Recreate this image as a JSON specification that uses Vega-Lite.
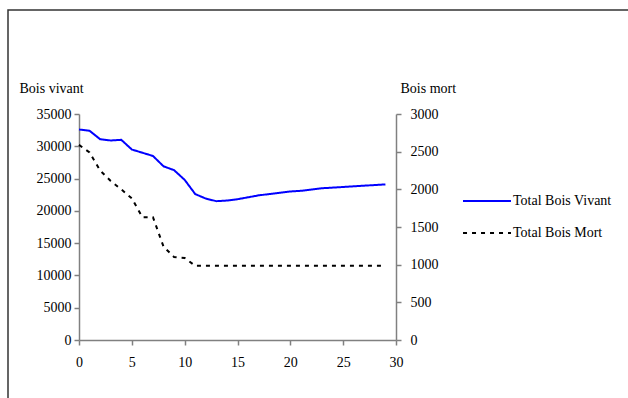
{
  "$schema": "https://vega.github.io/schema/vega-lite/v6.json",
  "autosize": {"type": "none"},
  "width": 622,
  "height": 395,
  "padding": {"left": 8, "top": 10, "right": 0, "bottom": 0},
  "background": "white",
  "config": {
    "view": {"stroke": "#333333", "strokeWidth": 1.5},
    "font": "Liberation Serif",
    "axis": {
      "grid": false,
      "labelFont": "Liberation Serif",
      "labelFontSize": 14,
      "labelColor": "#000000",
      "titleFont": "Liberation Serif",
      "titleFontSize": 14,
      "titleFontWeight": "normal",
      "titleColor": "#000000",
      "domainColor": "#808080",
      "domainWidth": 1.5,
      "tickColor": "#808080",
      "tickWidth": 1.5,
      "tickSize": 5
    },
    "legend": {
      "labelFont": "Liberation Serif",
      "labelFontSize": 14,
      "labelColor": "#000000"
    }
  },
  "data": {
    "values": [
      {"t": 0, "s": "Total Bois Vivant", "v": 32600},
      {"t": 1, "s": "Total Bois Vivant", "v": 32400},
      {"t": 2, "s": "Total Bois Vivant", "v": 31100},
      {"t": 3, "s": "Total Bois Vivant", "v": 30900},
      {"t": 4, "s": "Total Bois Vivant", "v": 31000},
      {"t": 5, "s": "Total Bois Vivant", "v": 29500},
      {"t": 6, "s": "Total Bois Vivant", "v": 29000},
      {"t": 7, "s": "Total Bois Vivant", "v": 28500},
      {"t": 8, "s": "Total Bois Vivant", "v": 26900},
      {"t": 9, "s": "Total Bois Vivant", "v": 26300},
      {"t": 10, "s": "Total Bois Vivant", "v": 24800},
      {"t": 11, "s": "Total Bois Vivant", "v": 22600},
      {"t": 12, "s": "Total Bois Vivant", "v": 21900},
      {"t": 13, "s": "Total Bois Vivant", "v": 21500},
      {"t": 14, "s": "Total Bois Vivant", "v": 21600},
      {"t": 15, "s": "Total Bois Vivant", "v": 21800},
      {"t": 16, "s": "Total Bois Vivant", "v": 22100},
      {"t": 17, "s": "Total Bois Vivant", "v": 22400},
      {"t": 18, "s": "Total Bois Vivant", "v": 22600},
      {"t": 19, "s": "Total Bois Vivant", "v": 22800},
      {"t": 20, "s": "Total Bois Vivant", "v": 23000},
      {"t": 21, "s": "Total Bois Vivant", "v": 23100},
      {"t": 22, "s": "Total Bois Vivant", "v": 23300},
      {"t": 23, "s": "Total Bois Vivant", "v": 23500},
      {"t": 24, "s": "Total Bois Vivant", "v": 23600},
      {"t": 25, "s": "Total Bois Vivant", "v": 23700},
      {"t": 26, "s": "Total Bois Vivant", "v": 23800},
      {"t": 27, "s": "Total Bois Vivant", "v": 23900},
      {"t": 28, "s": "Total Bois Vivant", "v": 24000},
      {"t": 29, "s": "Total Bois Vivant", "v": 24100},
      {"t": 0, "s": "Total Bois Mort", "v": 2590},
      {"t": 1, "s": "Total Bois Mort", "v": 2490},
      {"t": 2, "s": "Total Bois Mort", "v": 2250},
      {"t": 3, "s": "Total Bois Mort", "v": 2110},
      {"t": 4, "s": "Total Bois Mort", "v": 2000},
      {"t": 5, "s": "Total Bois Mort", "v": 1880},
      {"t": 6, "s": "Total Bois Mort", "v": 1630},
      {"t": 7, "s": "Total Bois Mort", "v": 1630},
      {"t": 8, "s": "Total Bois Mort", "v": 1240},
      {"t": 9, "s": "Total Bois Mort", "v": 1100},
      {"t": 10, "s": "Total Bois Mort", "v": 1090},
      {"t": 11, "s": "Total Bois Mort", "v": 985},
      {"t": 12, "s": "Total Bois Mort", "v": 985},
      {"t": 13, "s": "Total Bois Mort", "v": 985},
      {"t": 14, "s": "Total Bois Mort", "v": 985},
      {"t": 15, "s": "Total Bois Mort", "v": 985},
      {"t": 16, "s": "Total Bois Mort", "v": 985},
      {"t": 17, "s": "Total Bois Mort", "v": 985},
      {"t": 18, "s": "Total Bois Mort", "v": 985},
      {"t": 19, "s": "Total Bois Mort", "v": 985},
      {"t": 20, "s": "Total Bois Mort", "v": 985},
      {"t": 21, "s": "Total Bois Mort", "v": 985},
      {"t": 22, "s": "Total Bois Mort", "v": 985},
      {"t": 23, "s": "Total Bois Mort", "v": 985},
      {"t": 24, "s": "Total Bois Mort", "v": 985},
      {"t": 25, "s": "Total Bois Mort", "v": 985},
      {"t": 26, "s": "Total Bois Mort", "v": 985},
      {"t": 27, "s": "Total Bois Mort", "v": 985},
      {"t": 28, "s": "Total Bois Mort", "v": 985},
      {"t": 29, "s": "Total Bois Mort", "v": 985}
    ]
  },
  "encoding": {
    "x": {
      "field": "t",
      "type": "quantitative",
      "scale": {"domain": [0, 30], "range": [71, 388], "nice": false, "zero": false},
      "axis": {"title": null, "values": [0, 5, 10, 15, 20, 25, 30], "offset": -65, "labelPadding": 10, "labelFlush": false}
    },
    "color": {
      "field": "s",
      "type": "nominal",
      "scale": {"domain": ["Total Bois Vivant", "Total Bois Mort"], "range": ["#0000ff", "#000000"]},
      "legend": {
        "title": null,
        "orient": "none",
        "legendX": 454,
        "legendY": 166,
        "symbolType": "stroke",
        "symbolSize": 2300,
        "symbolStrokeWidth": 2,
        "rowPadding": -17,
        "labelOffset": 1
      }
    },
    "strokeDash": {
      "field": "s",
      "type": "nominal",
      "scale": {"domain": ["Total Bois Vivant", "Total Bois Mort"], "range": [[1, 0], [4, 5]]},
      "legend": {
        "title": null,
        "orient": "none",
        "legendX": 454,
        "legendY": 166,
        "symbolType": "stroke",
        "symbolSize": 2300,
        "symbolStrokeWidth": 2,
        "rowPadding": -17,
        "labelOffset": 1
      }
    }
  },
  "layer": [
    {
      "transform": [{"filter": "datum.s === 'Total Bois Vivant'"}],
      "mark": {"type": "line", "strokeWidth": 2},
      "encoding": {
        "y": {
          "field": "v",
          "type": "quantitative",
          "scale": {"domain": [0, 35000], "range": [330, 104], "nice": false},
          "axis": {
            "values": [0, 5000, 10000, 15000, 20000, 25000, 30000, 35000],
            "format": "d",
            "offset": -71,
            "labelPadding": 3,
            "title": "Bois vivant",
            "titleAngle": 0,
            "titleAlign": "left",
            "titleBaseline": "middle",
            "titleX": -60,
            "titleY": 78
          }
        }
      }
    },
    {
      "transform": [{"filter": "datum.s === 'Total Bois Mort'"}],
      "mark": {"type": "line", "strokeWidth": 2},
      "encoding": {
        "y": {
          "field": "v",
          "type": "quantitative",
          "scale": {"domain": [0, 3000], "range": [330, 104], "nice": false},
          "axis": {
            "orient": "right",
            "values": [0, 500, 1000, 1500, 2000, 2500, 3000],
            "format": "d",
            "offset": -234,
            "labelPadding": 9,
            "title": "Bois mort",
            "titleAngle": 0,
            "titleAlign": "left",
            "titleBaseline": "middle",
            "titleX": 4,
            "titleY": 78
          }
        }
      }
    }
  ],
  "resolve": {"scale": {"y": "independent"}}
}
